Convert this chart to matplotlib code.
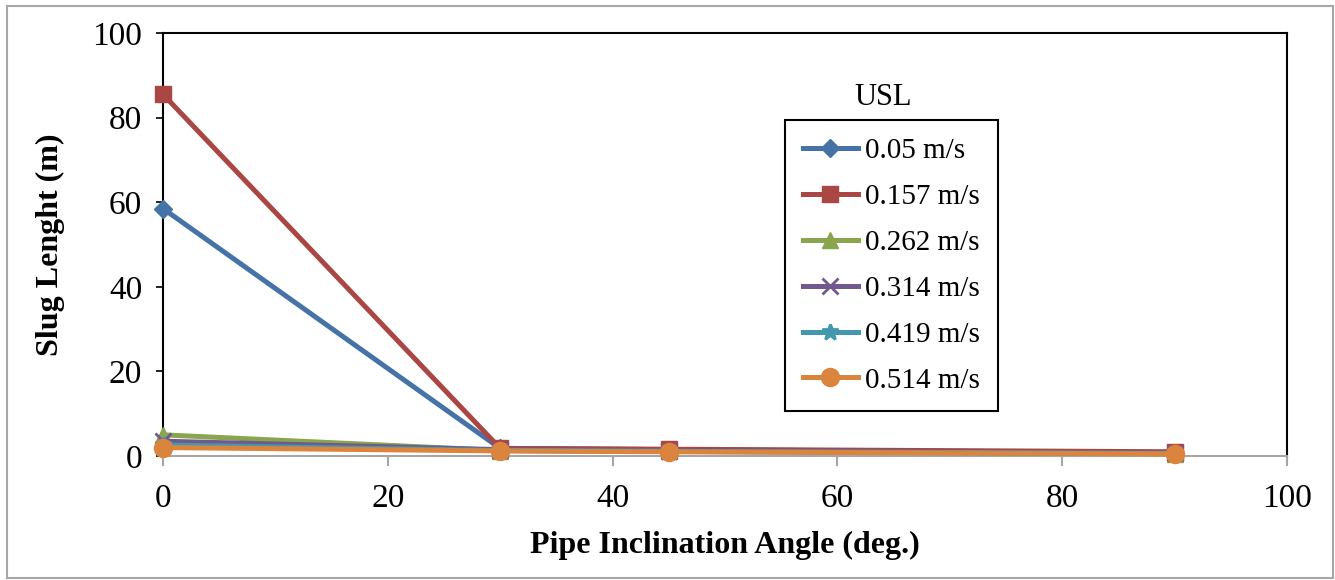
import matplotlib
matplotlib.use("Agg")
import matplotlib.pyplot as plt
from matplotlib.patches import Rectangle

# Inclination angles (deg.) and slug lengths (m) for each superficial liquid velocity
angles = [0, 30, 45, 90]
usl_labels = ["0.05 m/s", "0.157 m/s", "0.262 m/s", "0.314 m/s", "0.419 m/s", "0.514 m/s"]
slug_005 = [58.5, 1.8, 1.5, 0.8]
slug_0157 = [85.5, 1.8, 1.6, 1.0]
slug_0262 = [5.0, 1.3, 1.1, 0.5]
slug_0314 = [3.5, 1.5, 1.2, 0.7]
slug_0419 = [2.6, 1.3, 1.1, 0.6]
slug_0514 = [2.0, 1.2, 1.0, 0.5]

series = [slug_005, slug_0157, slug_0262, slug_0314, slug_0419, slug_0514]
colors = ["#4572A7", "#AA4643", "#89A54E", "#71588F", "#4198AF", "#DB843D"]
markers = ["D", "s", "^", "x", "*", "o"]
msizes = [9, 12, 11, 11, 12, 13]

plt.rcParams["font.family"] = ["Liberation Serif", "DejaVu Serif"]

fig = plt.figure(figsize=(13.35, 5.8), dpi=100)
ax = fig.add_axes([163 / 1335, 1 - 456 / 580, (1287 - 163) / 1335, (456 - 33) / 580])

for ys, lab, c, m, ms in zip(series, usl_labels, colors, markers, msizes):
    mew = 2 if m in ("x", "*") else 1
    ax.plot(angles, ys, color=c, lw=3.6, marker=m, markersize=ms,
            markeredgewidth=mew, markeredgecolor=c, markerfacecolor=c,
            label=lab, clip_on=False, zorder=3)

ax.set_xlim(0, 100)
ax.set_ylim(0, 100)
ax.set_xticks(range(0, 101, 20))
ax.set_yticks(range(0, 101, 20))

for side in ("top", "right", "left"):
    ax.spines[side].set_color("black")
    ax.spines[side].set_linewidth(1.5)
ax.spines["bottom"].set_color("#A6A6A6")
ax.spines["bottom"].set_linewidth(1.5)

ax.tick_params(axis="y", direction="out", length=5, width=1.2, color="black",
               labelsize=24, pad=10)
ax.tick_params(axis="x", direction="out", length=7, width=1.5, color="#A6A6A6",
               labelsize=24, pad=13)

ax.set_xlabel("Pipe Inclination Angle (deg.)", fontsize=23, fontweight="bold", labelpad=12)
ax.set_ylabel("Slug Lenght (m)", fontsize=23, fontweight="bold", labelpad=20)

leg = ax.legend(loc="upper left", bbox_to_anchor=(785 / 1335, 1 - 120 / 580),
                bbox_transform=fig.transFigure, fontsize=21, frameon=True,
                fancybox=False, edgecolor="black", framealpha=1,
                handlelength=1.9, handletextpad=0.25, labelspacing=0.67,
                borderpad=0.6, borderaxespad=0)
leg.get_frame().set_linewidth(1.5)

fig.text(883 / 1335, 1 - 97 / 580, "USL", fontsize=22, ha="center", va="center")

# outer chart border
fig.patches.append(Rectangle((7 / 1335, 2 / 580), 1326 / 1335, 572 / 580,
                             transform=fig.transFigure, fill=False,
                             edgecolor="#A6A6A6", linewidth=1.5))

fig.savefig("out.png", dpi=100)
